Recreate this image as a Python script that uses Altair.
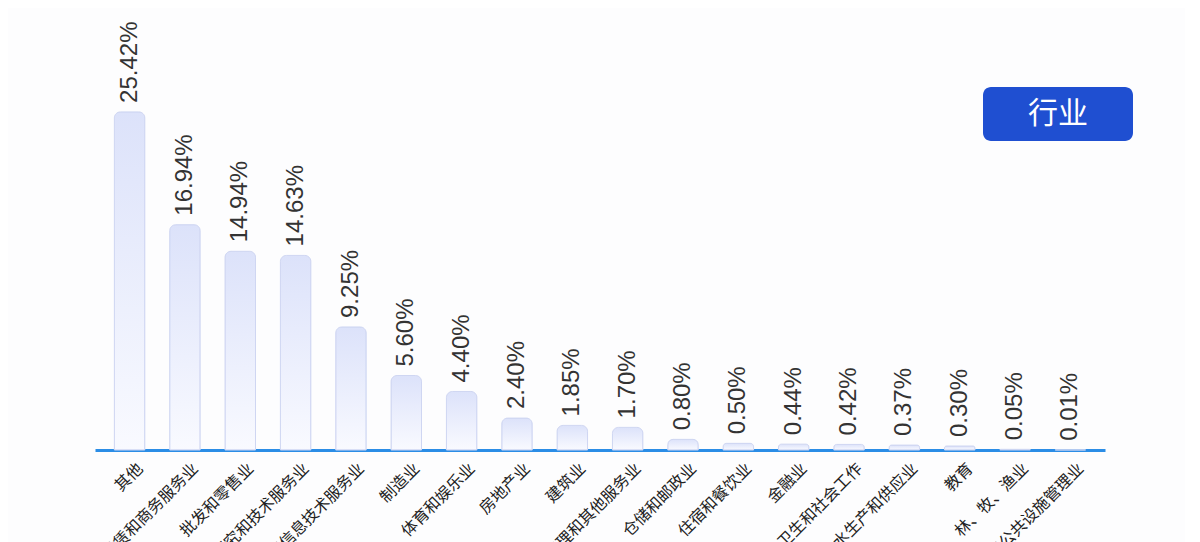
import altair as alt
import pandas as pd

industries = [
    "其他", "租赁和商务服务业", "批发和零售业", "科学研究和技术服务业",
    "信息传输、软件和信息技术服务业", "制造业", "文化、体育和娱乐业", "房地产业",
    "建筑业", "居民服务、修理和其他服务业", "交通运输、仓储和邮政业", "住宿和餐饮业",
    "金融业", "卫生和社会工作", "电力、热力、燃气及水生产和供应业", "教育",
    "农、林、牧、渔业", "水利、环境和公共设施管理业",
]
shares = [25.42, 16.94, 14.94, 14.63, 9.25, 5.60, 4.40, 2.40, 1.85, 1.70,
          0.80, 0.50, 0.44, 0.42, 0.37, 0.30, 0.05, 0.01]
badge_text = ["行业"]

df = pd.DataFrame({"industry": industries, "share": shares})
df["label"] = [f"{v:.2f}%" for v in shares]

x_enc = alt.X("industry:N", sort=industries, title=None,
              scale=alt.Scale(paddingInner=0.45, paddingOuter=0.35),
              axis=alt.Axis(labelAngle=-45, labelFont="Noto Sans CJK SC",
                            labelFontSize=16, labelColor="#222222",
                            labelOffset=5, labelPadding=10, labelLimit=400,
                            ticks=False, domainColor="#2b8de6", domainWidth=3,
                            labelOverlap=False))
y_enc = alt.Y("share:Q", scale=alt.Scale(domain=[0, 30]), axis=None)

bars = alt.Chart(df).mark_bar(
    cornerRadiusTopLeft=6, cornerRadiusTopRight=6,
    stroke="#cfd6f2", strokeWidth=1,
    color=alt.Gradient(gradient="linear", x1=0, x2=0, y1=0, y2=1,
                       stops=[alt.GradientStop(color="#dce2fa", offset=0),
                              alt.GradientStop(color="#f9faff", offset=1)]),
).encode(x=x_enc, y=y_enc)

labels = alt.Chart(df).mark_text(
    angle=270, align="left", baseline="middle", dx=9,
    font="Liberation Sans", fontSize=24, color="#333333",
).encode(x=alt.X("industry:N", sort=industries), y="share:Q", text="label:N")

badge_df = pd.DataFrame({"t": badge_text})
badge = alt.Chart(badge_df).mark_rect(color="#1f4fd1", cornerRadius=8).encode(
    x=alt.value(888), x2=alt.value(1038), y=alt.value(36), y2=alt.value(90))
badge_label = alt.Chart(badge_df).mark_text(
    font="Noto Sans CJK SC", fontSize=30, color="white",
    align="center", baseline="middle",
).encode(x=alt.value(963), y=alt.value(63), text="t:N")

chart = alt.layer(bars, labels, badge, badge_label).properties(
    width=1010, height=399,
    autosize=alt.AutoSizeParams(type="none"),
    padding={"left": 87, "top": 43, "right": 80, "bottom": 160},
    background="#fdfdfe",
).configure_view(stroke=None)

chart.save("out.html", embed_options={"renderer": "svg", "actions": False})
